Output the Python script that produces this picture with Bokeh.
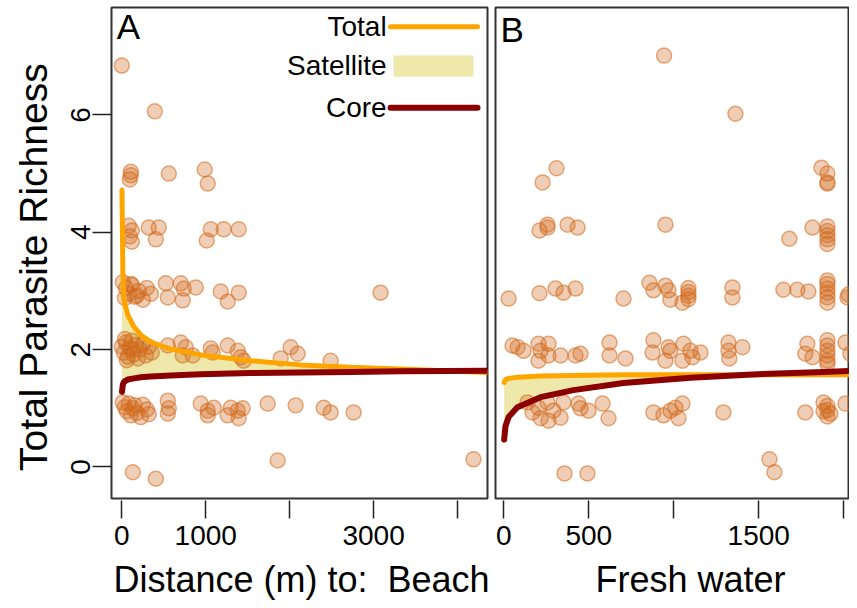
import math
from bokeh.plotting import figure
from bokeh.layouts import row, column
from bokeh.models import FixedTicker, Range1d
from bokeh.embed import file_html
from bokeh.resources import INLINE
from bokeh.core.properties import value

FONT = "Liberation Sans"

# ---------------- data: panel A (distance to beach, m) ----------------
beach_x = [0, 393,
           107, 107, 95, 560, 988, 1024,
           83, 119, 95, 119, 321, 440, 405, 1060, 1214, 1393, 1012,
           12, 48, 83, 119, 155, 202, 250, 298, 345, 36, 107, 179,
           524, 548, 702, 738, 726, 881, 1179, 1262, 1393, 3083,
           0, 24, 48, 71, 95, 119, 143, 167, 190, 214, 250, 286, 321, 357, 36, 60, 131,
           548, 702, 726, 762, 845, 1060, 1083, 1262, 1381, 1417, 1452, 1893, 2012, 2095, 2488,
           12, 36, 60, 83, 107, 131, 155, 179, 226, 250, 298, 321,
           548, 548, 560, 940, 1024, 1024, 1095, 1262, 1298, 1381, 1393, 1440, 1738, 2071, 2405, 2488, 2762,
           131, 405, 1857, 4190]
beach_y = [6.84, 6.06,
           5.03, 4.97, 4.90, 5.00, 5.07, 4.83,
           4.11, 4.03, 3.93, 3.84, 4.08, 4.08, 3.88, 4.05, 4.05, 4.05, 3.86,
           3.15, 3.05, 2.95, 3.10, 2.90, 3.00, 2.85, 3.05, 2.95, 2.88, 3.12, 2.92,
           3.13, 2.89, 3.13, 3.04, 2.84, 3.06, 2.99, 2.82, 2.97, 2.97,
           2.05, 1.95, 2.12, 1.88, 2.02, 2.15, 1.92, 2.08, 1.85, 2.00, 2.10, 1.90, 2.05, 1.95, 2.18, 1.82, 2.00,
           2.07, 2.12, 1.90, 2.04, 1.90, 2.02, 1.95, 2.07, 1.98, 1.87, 1.81, 1.85, 2.04, 1.93, 1.81,
           1.10, 1.02, 0.95, 1.08, 0.88, 1.00, 1.05, 0.92, 0.85, 1.06, 0.98, 0.90,
           1.13, 0.91, 1.00, 1.08, 0.96, 0.88, 1.01, 0.88, 1.01, 0.96, 0.83, 1.00, 1.08, 1.05, 1.01, 0.93, 0.93,
           -0.09, -0.20, 0.11, 0.13]

beach_curve_x = [2, 12, 24, 71, 143, 226, 345, 583, 940, 1536, 2131, 2726, 3321, 4357]
beach_total = [4.72, 3.36, 2.85, 2.59, 2.39, 2.25, 2.13, 2.01, 1.91, 1.81, 1.74, 1.70, 1.67, 1.61]
beach_core = [1.28, 1.40, 1.45, 1.49, 1.51, 1.53, 1.54, 1.56, 1.58, 1.60, 1.61, 1.62, 1.63, 1.64]

# ---------------- data: panel B (distance to fresh water, m) ----------------
fresh_x = [943, 1363,
           310, 228, 1869, 1904, 1904, 1904,
           210, 257, 257, 375, 434, 951, 1680, 1816, 1904, 1904, 1904, 1904, 1904,
           28, 210, 304, 351, 422, 704, 857, 880, 951, 969, 980, 1051, 1086, 1086, 1086, 1086,
           1345, 1345, 1645, 1727, 1792, 1904, 1904, 1904, 1904, 1904, 1904, 2022, 2028,
           51, 81, 116, 204, 216, 204, 263, 263, 334, 422, 451, 622, 622, 716, 880, 875, 951, 969,
           980, 1057, 1051, 1098, 1110, 1157, 1322, 1322, 1327, 1404, 1786, 1774, 1816,
           1904, 1904, 1904, 1904, 1904, 1904, 2010, 2039,
           139, 169, 204, 216, 257, 263, 292, 334, 351, 439, 451, 498, 581, 616, 880, 939, 980,
           1010, 1028, 1051, 1292, 1774, 1881, 1904, 1904, 1922, 1904, 1881, 2010,
           357, 492, 1563, 1592]
fresh_y = [7.01, 6.02,
           5.09, 4.85, 5.10, 5.00, 4.85, 4.83,
           4.03, 4.13, 4.08, 4.13, 4.08, 4.13, 3.89, 4.08, 4.10, 4.02, 3.95, 3.88, 3.80,
           2.87, 2.96, 3.04, 2.97, 3.04, 2.87, 3.14, 3.01, 3.09, 3.01, 2.85, 2.80, 3.05, 2.98, 2.92, 2.86,
           3.06, 2.89, 3.02, 3.02, 2.99, 3.18, 3.12, 3.04, 2.97, 2.89, 2.80, 2.89, 2.94,
           2.07, 2.04, 1.98, 2.10, 1.98, 1.81, 2.10, 1.90, 1.90, 1.90, 1.93, 2.12, 1.90, 1.85, 2.16, 1.95, 1.81, 2.04,
           1.98, 2.10, 1.81, 1.98, 1.87, 1.95, 2.12, 1.98, 1.85, 2.04, 2.10, 1.93, 1.87,
           2.16, 2.07, 1.98, 1.90, 1.81, 1.76, 2.12, 1.93,
           1.10, 0.93, 1.01, 0.83, 1.10, 0.79, 0.96, 0.84, 1.10, 1.08, 1.00, 0.96, 1.08, 0.83, 0.93, 0.88, 0.96,
           1.01, 0.83, 1.08, 0.93, 0.93, 1.10, 1.04, 0.97, 0.91, 0.86, 0.95, 1.08,
           -0.11, -0.11, 0.13, -0.09]

fresh_curve_x = [2, 10, 28, 80, 216, 410, 704, 1098, 1492, 1880, 2081]
fresh_total = [1.44, 1.49, 1.51, 1.53, 1.55, 1.56, 1.57, 1.57, 1.57, 1.57, 1.57]
fresh_core = [0.47, 0.70, 0.85, 1.02, 1.19, 1.31, 1.43, 1.52, 1.58, 1.62, 1.64]

y_ticks = [0, 2, 4, 6]
beach_ticks = [0, 1000, 2000, 3000, 4000]
beach_tick_labels = {0: "0", 1000: "1000", 2000: "", 3000: "3000", 4000: ""}
fresh_ticks = [0, 500, 1000, 1500, 2000]
fresh_tick_labels = {0: "0", 500: "500", 1000: "", 1500: "1500", 2000: ""}

legend_labels = ["Total", "Satellite", "Core"]
NB = "\u00a0"
x_titles = ["Distance (m) to:" + NB + NB + "Beach", "Fresh water"]
y_title = "Total Parasite Richness"

# ---------------- styles ----------------
PT_COLOR = "#D2691E"
TOTAL_COLOR = "#FFA500"
CORE_COLOR = "#8B0000"
SAT_COLOR = "#EEE8AA"
Y_RANGE = (-0.537, 7.83)
H = 556          # panel height
LEFT_W = 56      # strip holding the y title
BOTTOM_H = 44    # strip holding the x titles
TOTAL_W = 849


def base_fig(width, xr, left, right):
    p = figure(width=width, height=H, x_range=Range1d(*xr), y_range=Range1d(*Y_RANGE),
               output_backend="svg", toolbar_location=None,
               min_border_left=left, min_border_right=right,
               min_border_top=7, min_border_bottom=58)
    p.grid.visible = False
    p.outline_line_color = "#333333"
    p.outline_line_width = 2
    p.background_fill_color = "white"
    p.border_fill_color = "white"
    ax = p.xaxis[0]
    ax.axis_line_color = None
    ax.major_tick_in = -2
    ax.major_tick_out = 20
    ax.major_tick_line_width = 1.5
    ax.major_tick_line_color = "#222222"
    ax.minor_tick_line_color = None
    ax.major_label_text_font = FONT
    ax.major_label_text_font_size = "28px"
    ax.major_label_text_color = "black"
    ax.major_label_standoff = 7
    return p


def blank_fig(width, height, xr, yr):
    p = figure(width=width, height=height, x_range=Range1d(*xr), y_range=Range1d(*yr),
               output_backend="svg", toolbar_location=None,
               min_border=0)
    p.axis.visible = False
    p.grid.visible = False
    p.outline_line_color = None
    p.background_fill_color = "white"
    p.border_fill_color = "white"
    return p


def draw_panel(p, cx, total, core, px, py):
    p.varea(x=cx, y1=core, y2=total, fill_color=SAT_COLOR, fill_alpha=1.0)
    p.scatter(px, py, size=15, fill_color=PT_COLOR, fill_alpha=0.33,
              line_color=PT_COLOR, line_alpha=0.55, line_width=1.5)
    p.line(cx, total, line_color=TOTAL_COLOR, line_width=5, line_cap="round")
    p.line(cx, core, line_color=CORE_COLOR, line_width=6, line_cap="round")


# y-title strip (pixel-like coordinates)
pL = blank_fig(LEFT_W, H, (0, LEFT_W), (0, H))
pL.text(x=[33], y=[262], text=[y_title], text_font=value(FONT), text_font_size="39px",
        text_align="center", text_baseline="middle", angle=math.pi / 2, text_color="black")

# Panel A
pA = base_fig(491 - LEFT_W, (-123, 4357), 111 - LEFT_W, 4)
pA.xaxis[0].ticker = FixedTicker(ticks=beach_ticks)
pA.xaxis[0].major_label_overrides = beach_tick_labels
ya = pA.yaxis[0]
ya.ticker = FixedTicker(ticks=y_ticks)
ya.axis_line_color = None
ya.major_tick_in = 0
ya.major_tick_out = 19
ya.major_tick_line_width = 1.5
ya.major_tick_line_color = "#222222"
ya.minor_tick_line_color = None
ya.major_label_orientation = "vertical"
ya.major_label_text_font = FONT
ya.major_label_text_font_size = "28px"
ya.major_label_text_color = "black"
ya.major_label_standoff = 2

draw_panel(pA, beach_curve_x, beach_total, beach_core, beach_x, beach_y)

# panel letter and legend
pA.text(x=[-60], y=[7.50], text=["A"], text_font=value(FONT), text_font_size="35px",
        text_baseline="middle", text_align="left", text_color="black")
pA.text(x=[3155, 3155, 3155], y=[7.50, 6.84, 6.12], text=legend_labels,
        text_font=value(FONT), text_font_size="28px", text_align="right",
        text_baseline="middle", text_color="black")
pA.line([3202, 4238], [7.50, 7.50], line_color=TOTAL_COLOR, line_width=5, line_cap="round")
pA.quad(left=[3238], right=[4190], bottom=[6.65], top=[7.01], fill_color=SAT_COLOR, line_color=None)
pA.line([3202, 4238], [6.12, 6.12], line_color=CORE_COLOR, line_width=6, line_cap="round")

# Panel B
pB = base_fig(TOTAL_W - 491, (-49, 2034), 4, 0)
pB.yaxis.visible = False
pB.xaxis[0].ticker = FixedTicker(ticks=fresh_ticks)
pB.xaxis[0].major_label_overrides = fresh_tick_labels
draw_panel(pB, fresh_curve_x, fresh_total, fresh_core, fresh_x, fresh_y)
pB.text(x=[-19], y=[7.45], text=["B"], text_font=value(FONT), text_font_size="35px",
        text_baseline="middle", text_align="left", text_color="black")

# x-title strip (pixel-like coordinates)
pX = blank_fig(TOTAL_W, BOTTOM_H, (0, TOTAL_W), (0, BOTTOM_H))
pX.text(x=[301, 690], y=[21, 21], text=x_titles, text_font=value(FONT), text_font_size="36px",
        text_align="center", text_baseline="middle", text_color="black")

layout = column(row(pL, pA, pB), pX)
open("out.html", "w").write(file_html(layout, INLINE))
